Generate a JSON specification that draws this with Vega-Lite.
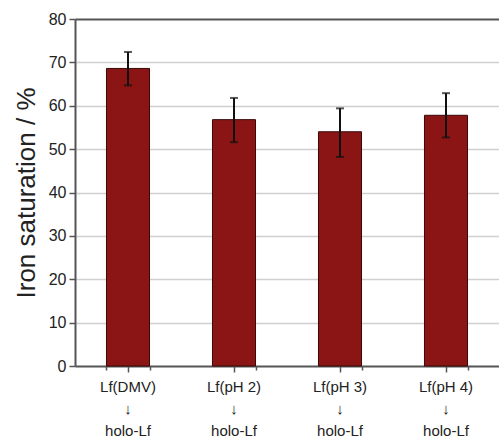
{
  "$schema": "https://vega.github.io/schema/vega-lite/v6.json",
  "autosize": {"type": "none"},
  "padding": {"left": 75, "top": 19, "right": 0, "bottom": 74},
  "width": 424,
  "height": 347,
  "background": "white",
  "config": {
    "view": {"stroke": null},
    "font": "Liberation Sans"
  },
  "data": {
    "values": [
      {"cond": "Lf(DMV)", "v": 68.6, "lo": 64.7, "hi": 72.4},
      {"cond": "Lf(pH 2)", "v": 56.8, "lo": 51.6, "hi": 61.8},
      {"cond": "Lf(pH 3)", "v": 54.0, "lo": 48.2, "hi": 59.4},
      {"cond": "Lf(pH 4)", "v": 57.8, "lo": 52.7, "hi": 62.9}
    ]
  },
  "resolve": {"axis": {"x": "independent"}},
  "layer": [
    {
      "mark": {"type": "bar", "color": "#8b1515", "stroke": "#3a0808", "strokeWidth": 1},
      "encoding": {
        "x": {
          "field": "cond", "type": "nominal", "sort": null,
          "scale": {"paddingInner": 0.594, "paddingOuter": 0.297},
          "axis": {
            "orient": "bottom",
            "title": null,
            "labelAngle": 0,
            "labelExpr": "[datum.label, '\u2193\uFE0E', 'holo-Lf']",
            "labelFont": "Liberation Sans, DejaVu Sans",
            "labelLineHeight": 22,
            "labelFontSize": 15,
            "labelColor": "#222",
            "labelPadding": 7,
            "tickSize": 6,
            "tickWidth": 1.5,
            "tickColor": "#555",
            "domainColor": "#555",
            "domainWidth": 2,
            "grid": false
          }
        },
        "y": {
          "field": "v", "type": "quantitative",
          "scale": {"domain": [0, 80], "nice": false},
          "axis": {
            "title": "Iron saturation / %",
            "titleFontSize": 26,
            "titleFontWeight": "normal",
            "titleColor": "#222",
            "titlePadding": 9,
            "values": [0, 5, 10, 15, 20, 25, 30, 35, 40, 45, 50, 55, 60, 65, 70, 75, 80],
            "labelExpr": "datum.value % 10 === 0 ? datum.label : ''",
            "labelFontSize": 16,
            "labelColor": "#222",
            "labelPadding": 3,
            "tickSize": {"condition": {"test": "datum.value % 10 === 0", "value": 6}, "value": 3},
            "tickWidth": 1.5,
            "tickColor": "#555",
            "domainColor": "#555",
            "domainWidth": 2,
            "grid": true,
            "gridColor": {"condition": {"test": "datum.value === 80", "value": "#555"}, "value": "#d0d0d0"},
            "gridWidth": {"condition": {"test": "datum.value === 80", "value": 2}, "value": 1.5},
            "gridOpacity": {"condition": {"test": "datum.value % 10 === 0 && datum.value > 0", "value": 1}, "value": 0}
          }
        }
      }
    },
    {
      "mark": {"type": "rule", "color": "#111", "strokeWidth": 2},
      "encoding": {
        "x": {
          "field": "cond", "type": "nominal", "sort": null,
          "axis": {
            "orient": "bottom",
            "title": null,
            "labels": false,
            "domain": false,
            "grid": false,
            "tickBand": "extent",
            "tickSize": 4,
            "tickWidth": 1.5,
            "tickColor": "#555"
          }
        },
        "y": {"field": "lo", "type": "quantitative"},
        "y2": {"field": "hi"}
      }
    },
    {
      "mark": {"type": "tick", "color": "#111", "size": 8, "thickness": 2},
      "encoding": {
        "x": {"field": "cond", "type": "nominal", "sort": null, "axis": null},
        "y": {"field": "hi", "type": "quantitative"}
      }
    },
    {
      "mark": {"type": "tick", "color": "#111", "size": 8, "thickness": 2},
      "encoding": {
        "x": {"field": "cond", "type": "nominal", "sort": null, "axis": null},
        "y": {"field": "lo", "type": "quantitative"}
      }
    }
  ]
}
